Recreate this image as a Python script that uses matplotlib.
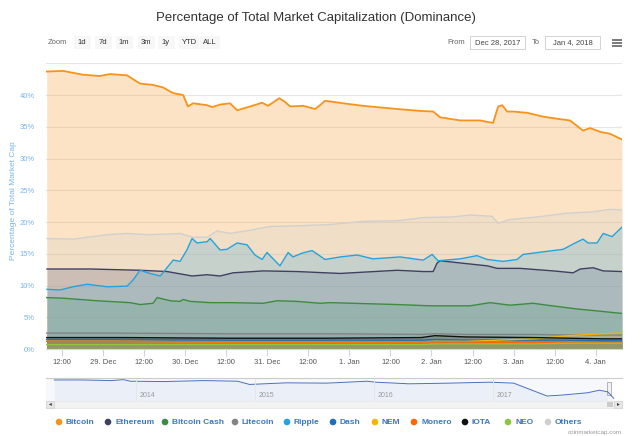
import numpy as np
import matplotlib
matplotlib.use('Agg')
import matplotlib.pyplot as plt
from matplotlib.patches import Rectangle, Circle
from matplotlib.ticker import FuncFormatter

plt.rcParams['font.family'] = ['Liberation Sans', 'DejaVu Sans']

# hours since 28 Dec 2017 00:00
btc_h = [7.5, 12.3, 18.1, 23.1, 26.0, 31.0, 34.8, 38.6, 41.5, 44.5, 47.4, 48.8, 50.3, 54.4, 55.9,
         58.2, 61.1, 63.2, 67.0, 70.5, 72.2, 75.5, 77.2, 78.7, 82.5, 86.0, 87.4, 88.9, 94.2, 100.0,
         110.0, 116.7, 120.5, 122.5, 128.4, 134.2, 138.0, 139.5, 140.7, 142.1, 143.9, 148.0, 152.6,
         157.6, 160.5, 164.3, 166.4, 169.3, 172.2, 175.7]
btc_v = [43.7, 43.8, 43.2, 43.0, 43.3, 43.1, 41.8, 41.6, 41.2, 40.3, 40.0, 38.2, 38.7, 38.4, 38.1,
         38.5, 38.7, 37.6, 38.2, 38.8, 38.3, 39.5, 38.9, 38.2, 38.3, 37.8, 38.4, 39.1, 38.7, 38.3,
         37.8, 37.5, 37.4, 36.5, 36.0, 36.0, 35.6, 38.2, 38.4, 37.4, 37.4, 37.2, 36.6,
         36.2, 36.0, 34.4, 34.8, 34.2, 33.9, 33.0]

oth_h = [7.6, 15.2, 25.2, 31.0, 36.9, 42.7, 46.5, 50.3, 54.4, 57.3, 61.1, 67.0, 72.8, 80.7, 90.4,
         100.0, 110.0, 117.6, 126.3, 131.3, 137.7, 139.5, 143.0, 150.9, 159.7, 167.3, 172.2, 175.7]
oth_v = [17.4, 17.3, 18.0, 18.2, 18.0, 18.1, 18.2, 17.6, 17.6, 18.6, 18.2, 18.7, 19.3, 19.4, 19.6,
         20.1, 20.2, 20.7, 20.8, 21.1, 20.9, 19.8, 20.4, 20.8, 21.4, 21.6, 22.0, 21.9]

xrp_h = [7.6, 11.4, 15.2, 19.3, 25.2, 31.0, 32.8, 34.8, 37.7, 40.7, 44.5, 46.5, 48.5, 50.0, 51.5,
         54.4, 55.3, 58.2, 60.2, 63.2, 66.1, 68.4, 70.5, 71.9, 75.7, 78.1, 79.5, 82.2, 85.1, 88.9,
         93.3, 98.3, 102.9, 110.8, 117.6, 120.2, 121.9, 128.4, 133.3, 136.3, 140.9, 145.0, 146.8,
         152.6, 158.5, 162.0, 164.3, 165.8, 168.4, 170.2, 172.8, 175.7]
xrp_v = [9.4, 9.3, 9.8, 10.2, 9.8, 9.9, 10.9, 12.4, 11.9, 11.5, 14.0, 13.8, 15.6, 17.4, 16.7,
         16.9, 17.4, 15.6, 15.7, 16.7, 16.4, 14.8, 14.1, 15.2, 13.1, 15.2, 14.5, 15.1, 15.5, 14.1,
         14.5, 14.8, 14.2, 14.5, 14.0, 14.9, 13.9, 14.2, 14.7, 14.1, 13.8, 14.1, 14.9,
         15.3, 15.7, 16.7, 17.3, 16.7, 16.7, 18.2, 17.7, 19.2]

eth_h = [7.6, 20.2, 34.8, 42.7, 50.0, 54.4, 58.2, 62.0, 70.8, 80.7, 93.3, 110.0, 117.6, 120.5,
         121.6, 122.5, 129.3, 136.3, 139.2, 145.9, 155.6, 161.4, 163.5, 167.3, 170.2, 175.7]
eth_v = [12.6, 12.6, 12.4, 12.2, 11.5, 11.7, 11.5, 12.0, 12.3, 12.2, 11.9, 12.4, 12.2, 12.2,
         13.5, 13.9, 13.5, 13.1, 12.7, 12.7, 12.3, 12.0, 12.6, 12.8, 12.3, 12.2]

bch_h = [7.5, 12.3, 22.2, 31.9, 34.8, 38.6, 39.8, 43.6, 46.5, 47.4, 49.4, 55.3, 61.1, 70.8, 74.9,
         80.7, 87.4, 90.4, 110.0, 119.6, 131.3, 137.1, 143.0, 149.7, 153.8, 162.6, 168.4, 175.7]
bch_v = [8.1, 8.0, 7.6, 7.3, 7.0, 7.2, 8.1, 7.6, 7.5, 7.8, 7.5, 7.3, 7.3, 7.2, 7.6,
         7.5, 7.2, 7.3, 7.0, 6.8, 6.8, 7.3, 6.9, 7.2, 6.9, 6.3, 6.0, 5.6]

small_h = [7.5, 30.0, 60.0, 90.0, 117.0, 121.0, 130.0, 150.0, 160.0, 170.0, 175.7]
ltc_v = [2.5, 2.5, 2.4, 2.4, 2.3, 2.4, 2.3, 2.3, 2.2, 2.2, 2.2]
dash_v = [1.5, 1.5, 1.4, 1.4, 1.4, 1.5, 1.4, 1.4, 1.4, 1.3, 1.3]
nem_v = [1.2, 1.2, 1.1, 1.1, 1.1, 1.2, 1.2, 1.6, 2.1, 2.4, 2.5]
xmr_v = [1.2, 1.2, 1.1, 1.1, 1.1, 1.1, 1.1, 1.0, 1.0, 1.0, 1.0]
iota_v = [1.8, 1.8, 1.7, 1.7, 1.8, 2.1, 1.9, 1.8, 1.7, 1.6, 1.6]
neo_v = [0.7, 0.7, 0.7, 0.7, 0.7, 0.8, 0.8, 0.8, 0.9, 0.9, 0.9]

tick_hours = [12, 24, 36, 48, 60, 72, 84, 96, 108, 120, 132, 144, 156, 168]
tick_labels = ['12:00', '29. Dec', '12:00', '30. Dec', '12:00', '31. Dec', '12:00', '1. Jan',
               '12:00', '2. Jan', '12:00', '3. Jan', '12:00', '4. Jan']

# navigator: long-run bitcoin dominance
nav_year = [2013.31, 2013.54, 2013.79, 2013.89, 2013.95, 2014.23, 2014.57, 2014.85, 2014.95,
            2015.26, 2015.6, 2015.94, 2016.01, 2016.29, 2016.63, 2016.97, 2017.17, 2017.31,
            2017.45, 2017.58, 2017.79, 2017.89, 2017.96, 2018.01]
nav_v = [91.2, 91.2, 89.3, 92.2, 87.4, 86.4, 89.3, 87.4, 77.8, 82.6, 81.7, 87.4, 84.5, 79.7,
         81.7, 84.5, 81.7, 62.5, 43.4, 46.3, 53.0, 60.6, 55.8, 36.7]
nav_years = [2014, 2015, 2016, 2017]

names = ['Bitcoin', 'Ethereum', 'Bitcoin Cash', 'Litecoin', 'Ripple', 'Dash', 'NEM', 'Monero',
         'IOTA', 'NEO', 'Others']
colors = ['#f7931a', '#3f3f63', '#3b8c3b', '#838383', '#23a3dd', '#1c6fb8', '#f4b400', '#ff6600',
          '#111111', '#8cc63f', '#d0d0d0']
series = [(btc_h, btc_v), (eth_h, eth_v), (bch_h, bch_v), (small_h, ltc_v), (xrp_h, xrp_v),
          (small_h, dash_v), (small_h, nem_v), (small_h, xmr_v), (small_h, iota_v),
          (small_h, neo_v), (oth_h, oth_v)]

fig = plt.figure(figsize=(6.4, 4.36), dpi=100)
W, H = 640, 436

def box(l, t, r, b):
    return [l / W, 1 - b / H, (r - l) / W, (b - t) / H]

ax = fig.add_axes(box(46, 63.3, 622, 349))
for (h, v), c, n in zip(series, colors, names):
    ax.fill_between(h, 0, v, color=c, alpha=0.25, linewidth=0)
    ax.plot(h, v, color=c, lw=1.3 if n == 'Bitcoin' else 1.0)

ax.set_xlim(7.3, 175.7)
ax.set_ylim(0, 45)
ax.set_yticks(range(0, 46, 5))
ax.yaxis.set_major_formatter(FuncFormatter(lambda y, p: '' if y >= 45 else f'{y:.0f}%'))
ax.set_xticks(tick_hours)
ax.set_xticklabels(tick_labels)
ax.grid(axis='y', color='#e6e6e6', lw=0.8)
ax.set_axisbelow(True)
for s in ['top', 'right', 'left']:
    ax.spines[s].set_visible(False)
ax.spines['bottom'].set_color('#ccd6eb')
ax.tick_params(axis='y', length=0, labelsize=5.5, labelcolor='#7cb5ec', pad=8)
ax.tick_params(axis='x', length=5, color='#ccd6eb', labelsize=5.5, labelcolor='#555555', pad=2)
ax.set_ylabel('Percentage of Total Market Cap', fontsize=6, color='#7cb5ec')
ax.yaxis.set_label_coords(-0.05, 0.52)

# navigator
nav = fig.add_axes(box(46, 378, 622, 400.5))
nav.fill_between(nav_year, 30, nav_v, color='#6685c2', alpha=0.08, linewidth=0)
nav.plot(nav_year, nav_v, color='#4a6fc4', lw=0.7)
nav.set_xlim(2013.24, 2018.08)
nav.set_ylim(30, 97)
for yr in nav_years:
    nav.axvline(yr, color='#e6e6e6', lw=0.7)
    nav.text(yr + 0.03, 33, str(yr), fontsize=5, color='#999999', va='bottom')
nav.axvspan(2013.24, 2017.96, color='#6685c2', alpha=0.05, lw=0)
nav.add_patch(Rectangle((2017.955, 45), 0.035, 40, facecolor='#f2f2f2', edgecolor='#999999', lw=0.5))
nav.set_xticks([])
nav.set_yticks([])
for s in nav.spines.values():
    s.set_visible(False)
nav.spines['top'].set_visible(True)
nav.spines['top'].set_color('#cccccc')

# scrollbar and header widgets
ui = fig.add_axes([0, 0, 1, 1])
ui.set_xlim(0, W)
ui.set_ylim(H, 0)
ui.axis('off')
ui.add_patch(Rectangle((46, 400.5), 576, 7, facecolor='#f2f2f2', edgecolor='#e0e0e0', lw=0.4))
ui.add_patch(Rectangle((46, 400.5), 8, 7, facecolor='#e6e6e6', edgecolor='#cccccc', lw=0.4))
ui.add_patch(Rectangle((614, 400.5), 8, 7, facecolor='#e6e6e6', edgecolor='#cccccc', lw=0.4))
ui.add_patch(Rectangle((607, 401.5), 6, 5, facecolor='#cccccc', lw=0))
ui.text(50, 404, '◂', fontsize=4, ha='center', va='center', color='#333333', family='DejaVu Sans')
ui.text(618, 404, '▸', fontsize=4, ha='center', va='center', color='#333333', family='DejaVu Sans')

ui.text(316, 18, 'Percentage of Total Market Capitalization (Dominance)', fontsize=9.5,
        ha='center', va='center', color='#333333')
ui.text(48, 43, 'Zoom', fontsize=5.5, color='#666666', va='center')
btns = [('1d', 82), ('7d', 103), ('1m', 124), ('3m', 146), ('1y', 166), ('YTD', 189), ('ALL', 210)]
for lbl, cx in btns:
    w = 17 if len(lbl) < 3 else 20
    ui.add_patch(Rectangle((cx - w / 2, 36), w, 13, facecolor='#f7f7f7', lw=0))
    ui.text(cx, 43, lbl, fontsize=5.5, ha='center', va='center', color='#333333')
ui.text(465, 43, 'From', fontsize=5.5, ha='right', va='center', color='#666666')
ui.add_patch(Rectangle((470, 36), 55, 13, facecolor='white', edgecolor='#cccccc', lw=0.6))
ui.text(497.5, 43, 'Dec 28, 2017', fontsize=5.5, ha='center', va='center', color='#444444')
ui.text(540, 43, 'To', fontsize=5.5, ha='right', va='center', color='#666666')
ui.add_patch(Rectangle((545, 36), 55, 13, facecolor='white', edgecolor='#cccccc', lw=0.6))
ui.text(572.5, 43, 'Jan 4, 2018', fontsize=5.5, ha='center', va='center', color='#444444')
for dy in (-3, 0, 3):
    ui.plot([612, 622], [43 + dy, 43 + dy], color='#555555', lw=1.1, solid_capstyle='butt')

# legend
leg_x = [59, 108, 165, 235, 287, 333, 375, 414, 465, 508, 548]
for x0, n, c in zip(leg_x, names, colors):
    ui.add_patch(Circle((x0, 422), 3.3, color=c, lw=0))
    ui.text(x0 + 7, 422.5, n, fontsize=6, fontweight='bold', color='#3a78c0', va='center')
ui.text(622, 432, 'coinmarketcap.com', fontsize=4.5, ha='right', va='center', color='#999999')

fig.savefig('out.png', dpi=100)
